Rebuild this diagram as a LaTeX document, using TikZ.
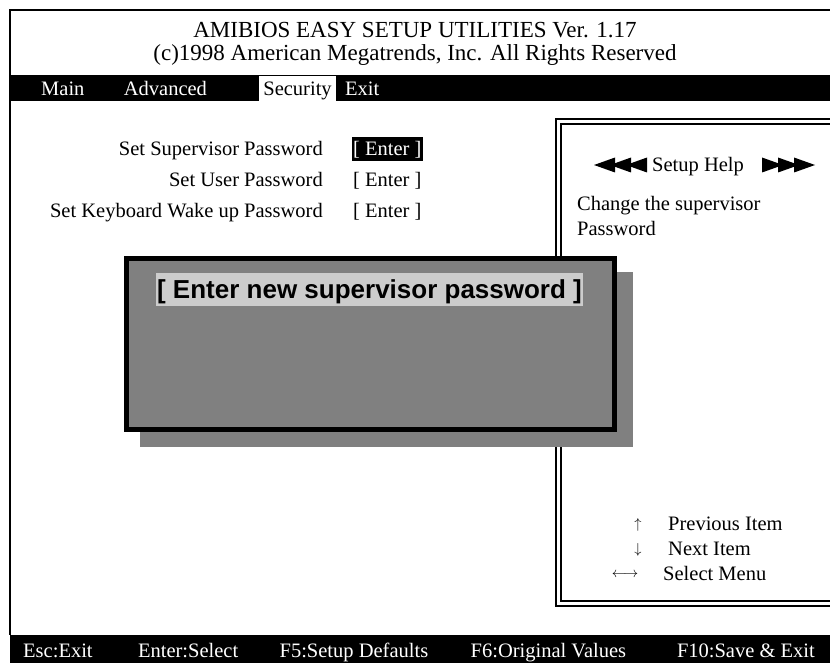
\documentclass[tikz,border=0pt]{standalone}
\usepackage{fontspec}
\setmainfont{Liberation Serif}
\newfontfamily\promptfont{Liberation Sans}
\usetikzlibrary{positioning}

\definecolor{dialoggray}{HTML}{808080}
\definecolor{promptgray}{HTML}{CCCCCC}

\begin{document}
\begin{tikzpicture}[x=1pt,y=-1pt,
  screen text/.style={inner sep=0pt,anchor=base west,font=\fontsize{20.5}{24}\selectfont},
  title text/.style={screen text,anchor=base,font=\fontsize{23}{27}\selectfont},
  bar text/.style={screen text,text=white},
  item label/.style={screen text,anchor=base east},
  key glyph/.style={inner sep=0pt,font=\fontsize{14.4}{17}\selectfont},
  frame line/.style={line width=2pt},
  dialog box/.style={draw,line width=5pt,fill=dialoggray,minimum width=488pt,
    minimum height=171pt,inner sep=0pt}]

  \useasboundingbox (0,0) rectangle (830,663);

  % screen frame and bars
  \draw[frame line] (830,10) -| (10,635);
  \fill (10,75) rectangle (830,101);
  \fill (10,635) rectangle (830,663);

  \node[title text] (title) at (415,38) {AMIBIOS EASY SETUP UTILITIES Ver. 1.17};
  \node[title text] (copyright) at (415,61) {(c)1998 American Megatrends, Inc. All Rights Reserved};

  \node[bar text] (main) at (41,96) {Main};
  \node[bar text] (advanced) [base right=39pt of main] {Advanced};
  \node[screen text,fill=white,inner xsep=4pt,text height=20pt,text depth=5pt]
    (security) [base right=52pt of advanced] {Security};
  \node[bar text] (exit) [base right=9pt of security] {Exit};

  % password items
  \node[item label] (supervisor) at (323,156) {Set Supervisor Password};
  \node[item label] (user) at (323,187) {Set User Password};
  \node[item label] (keyboard) at (323,218) {Set Keyboard Wake up Password};
  \node[screen text,fill=black,text=white,inner xsep=1pt,text height=19pt,text depth=5pt]
    (supervisorkey) [base right=29pt of supervisor] {[ Enter ]};
  \node[screen text] (userkey) [base right=30pt of user] {[ Enter ]};
  \node[screen text] (keyboardkey) [base right=30pt of keyboard] {[ Enter ]};

  % help panel
  \draw[frame line] (830,119) -| (555.5,606) -- (830,606);
  \draw[frame line] (830,124.5) -| (561,601) -- (830,601);

  \node[screen text] (helptitle) at (652,172) {Setup Help};
  \foreach \i in {0,1,2} {
    \fill (594+16*\i,165) -- ++(21,-7.5) -- ++(0,15) -- cycle;
    \fill (815-16*\i,165) -- ++(-21,-7.5) -- ++(0,15) -- cycle;
  }
  \node[screen text] (helpline) at (577,211) {Change the supervisor};
  \node[screen text] (helpword) at ([yshift=-25pt]helpline.base west) {Password};

  % password dialog
  \fill[dialoggray] (140,272) rectangle (633,447);
  \node[dialog box] (dialog) at (370.5,344) {};
  \node[screen text,anchor=base,fill=promptgray,inner xsep=1pt,text height=26pt,text depth=7.5pt,
    font=\promptfont\bfseries\fontsize{26}{30}\selectfont] (prompt) at (369.5,298.5)
    {[ Enter new supervisor password ]};

  % key help
  \node[screen text] (previtem) at (668,530) {Previous Item};
  \node[screen text] (nextitem) at ([yshift=-25pt]previtem.base west) {Next Item};
  \node[screen text] (selectmenu) at ([shift={(-5pt,-25pt)}]nextitem.base west) {Select Menu};
  \node[key glyph] (upkey) at (638,525) {$\uparrow$};
  \node[key glyph] (downkey) at (638,550) {$\downarrow$};
  \node[key glyph] (sidekey) at (625,575) {$\longleftrightarrow$};

  \node[bar text] (escexit) at (23,657) {Esc:Exit};
  \node[bar text] (enterselect) [base right=45pt of escexit] {Enter:Select};
  \node[bar text] (setupdefaults) [base right=41pt of enterselect] {F5:Setup Defaults};
  \node[bar text] (originalvalues) [base right=42pt of setupdefaults] {F6:Original Values};
  \node[bar text,anchor=base east] (saveexit) at (815,657) {F10:Save \& Exit};
\end{tikzpicture}
\end{document}
